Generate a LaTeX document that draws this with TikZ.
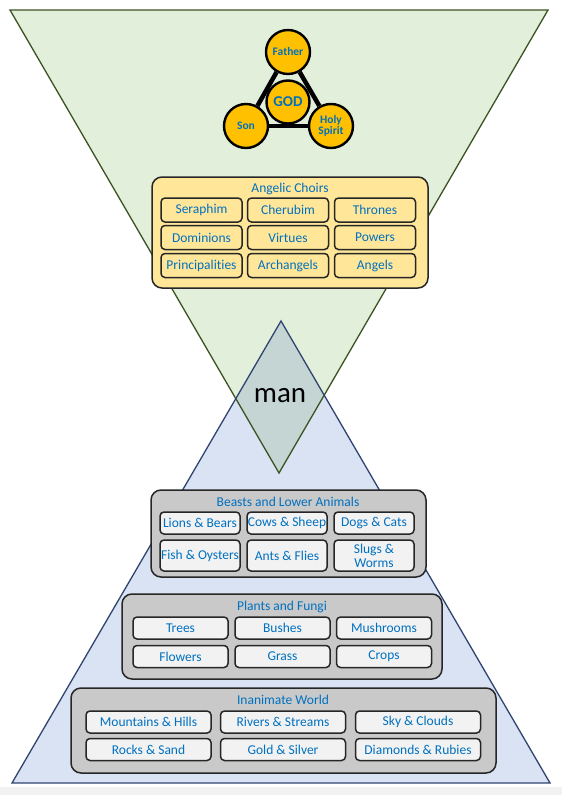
\documentclass[tikz,border=0pt]{standalone}
\usepackage{fontspec}
\setmainfont[Ligatures=NoCommon]{Carlito}
\definecolor{txtblue}{HTML}{0070C0}
\definecolor{greenfill}{HTML}{E2EFDA}
\definecolor{greenline}{HTML}{3B5323}
\definecolor{bluefill}{HTML}{DAE3F3}
\definecolor{blueline}{HTML}{2F4470}
\definecolor{manfill}{HTML}{C4D5D3}
\definecolor{gold}{HTML}{FFC000}
\definecolor{angelfill}{HTML}{FFE699}
\definecolor{grayout}{HTML}{C9C9C9}
\definecolor{grayin}{HTML}{F2F2F2}
\tikzset{
  person/.style={circle,draw=black,line width=2.4pt,fill=gold,minimum size=44pt,inner sep=0pt,
    text=txtblue,align=center,font=\fontsize{11.5}{11.5}\selectfont\bfseries},
  group/.style={draw=black!85,line width=1.5pt,rounded corners=10pt,inner sep=0pt},
  member/.style={draw=black!85,line width=1.5pt,rounded corners=4pt,inner sep=0pt,
    text=txtblue,align=center,font=\fontsize{13.5}{14}\selectfont},
  grouptitle/.style={inner sep=0pt,text=txtblue,font=\fontsize{13.5}{14}\selectfont}
}
\begin{document}
\begin{tikzpicture}[x=1pt,y=-1pt]
\useasboundingbox (0,0) rectangle (562,795);
\fill[grayin] (0,787) rectangle (562,795);
% the two triangles and their overlap
\fill[greenfill] (10,10) -- (548,10) -- (279,473) -- cycle;
\fill[bluefill] (281,321) -- (12,783) -- (550,783) -- cycle;
\begin{scope}
  \clip (10,10) -- (548,10) -- (279,473) -- cycle;
  \fill[manfill] (281,321) -- (12,783) -- (550,783) -- cycle;
\end{scope}
\draw[greenline,line width=1.3pt] (10,10) -- (548,10) -- (279,473) -- cycle;
\draw[blueline,line width=1.3pt] (281,321) -- (12,783) -- (550,783) -- cycle;
\node (man) at (280,396) {\fontsize{29}{29}\selectfont man};
% trinity
\node[person] (father) at (288,52) {Father};
\node[person] (son) at (246,126) {Son};
\node[person] (spirit) at (331,126) {Holy\\Spirit};
\draw[line width=4.5pt] (father) -- (son);
\draw[line width=4.5pt] (son) -- (spirit);
\draw[line width=4.5pt] (spirit) -- (father);
\node[person,minimum size=43pt,font=\fontsize{15}{15}\selectfont\bfseries] (god) at (288,102) {GOD};
% angels
\node[group,fill=angelfill,minimum width=276pt,minimum height=111pt] (angels) at (290,232.5) {};
\node[grouptitle] (angelstitle) at (290,189) {Angelic Choirs};
\node[member,fill=angelfill,minimum width=81pt,minimum height=24pt] (seraphim) at (201.5,210) {Seraphim};
\node[member,fill=angelfill,minimum width=81pt,minimum height=24pt] (cherubim) at (288,210) {Cherubim};
\node[member,fill=angelfill,minimum width=81pt,minimum height=24pt] (thrones) at (375,210) {Thrones};
\node[member,fill=angelfill,minimum width=81pt,minimum height=24pt] (dominions) at (201.5,237.5) {Dominions};
\node[member,fill=angelfill,minimum width=81pt,minimum height=24pt] (virtues) at (288,237.5) {Virtues};
\node[member,fill=angelfill,minimum width=81pt,minimum height=24pt] (powers) at (375,237.5) {Powers};
\node[member,fill=angelfill,minimum width=81pt,minimum height=24pt] (principalities) at (201.5,265.5) {Principalities};
\node[member,fill=angelfill,minimum width=81pt,minimum height=24pt] (archangels) at (288,265.5) {Archangels};
\node[member,fill=angelfill,minimum width=81pt,minimum height=24pt] (angelsrank) at (375,265.5) {Angels};
% beasts
\node[group,fill=grayout,minimum width=275pt,minimum height=87pt] (beasts) at (288.5,533.5) {};
\node[grouptitle] (beaststitle) at (288,502) {Beasts and Lower Animals};
\node[member,fill=grayin,minimum width=80pt,minimum height=22pt] (lions) at (200,523) {Lions \& Bears};
\node[member,fill=grayin,minimum width=80pt,minimum height=22pt] (cows) at (287,523) {Cows \& Sheep};
\node[member,fill=grayin,minimum width=80pt,minimum height=22pt] (dogs) at (374,523) {Dogs \& Cats};
\node[member,fill=grayin,minimum width=80pt,minimum height=31pt] (fish) at (200,555.5) {Fish \& Oysters};
\node[member,fill=grayin,minimum width=80pt,minimum height=31pt] (ants) at (287,555.5) {Ants \& Flies};
\node[member,fill=grayin,minimum width=80pt,minimum height=31pt] (slugs) at (374,555.5) {Slugs \&\\Worms};
% plants
\node[group,fill=grayout,minimum width=320pt,minimum height=85pt] (plants) at (282,636.5) {};
\node[grouptitle] (plantstitle) at (282,607) {Plants and Fungi};
\node[member,fill=grayin,minimum width=95pt,minimum height=22pt] (trees) at (180.5,628) {Trees};
\node[member,fill=grayin,minimum width=95pt,minimum height=22pt] (bushes) at (282.5,628) {Bushes};
\node[member,fill=grayin,minimum width=95pt,minimum height=22pt] (mushrooms) at (384,628) {Mushrooms};
\node[member,fill=grayin,minimum width=95pt,minimum height=22pt] (flowers) at (180.5,656.5) {Flowers};
\node[member,fill=grayin,minimum width=95pt,minimum height=22pt] (grass) at (282.5,656.5) {Grass};
\node[member,fill=grayin,minimum width=95pt,minimum height=22pt] (crops) at (384,656.5) {Crops};
% inanimate world
\node[group,fill=grayout,minimum width=425pt,minimum height=85pt] (inanimate) at (283.5,730.5) {};
\node[grouptitle] (inanimatetitle) at (283,700) {Inanimate World};
\node[member,fill=grayin,minimum width=125pt,minimum height=22pt] (mountains) at (148.5,722) {Mountains \& Hills};
\node[member,fill=grayin,minimum width=125pt,minimum height=22pt] (rivers) at (283,722) {Rivers \& Streams};
\node[member,fill=grayin,minimum width=125pt,minimum height=22pt] (sky) at (418,722) {Sky \& Clouds};
\node[member,fill=grayin,minimum width=125pt,minimum height=22pt] (rocks) at (148.5,749.5) {Rocks \& Sand};
\node[member,fill=grayin,minimum width=125pt,minimum height=22pt] (gold) at (283,749.5) {Gold \& Silver};
\node[member,fill=grayin,minimum width=125pt,minimum height=22pt] (diamonds) at (418,749.5) {Diamonds \& Rubies};
\end{tikzpicture}
\end{document}
